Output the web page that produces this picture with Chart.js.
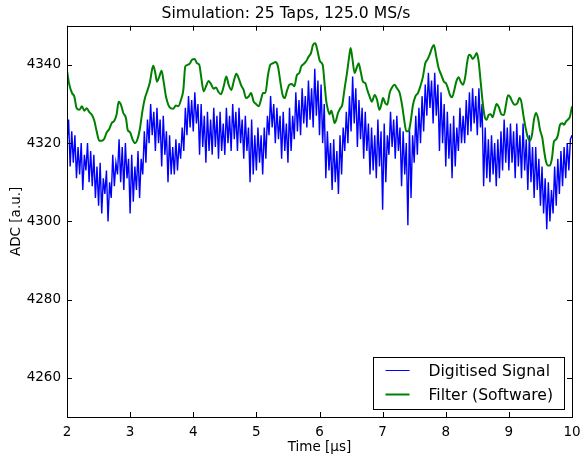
<!DOCTYPE html>
<html>
<head>
<meta charset="utf-8">
<script src="https://cdn.jsdelivr.net/npm/chart.js@4/dist/chart.umd.min.js"></script>
<style>
  html, body { margin: 0; padding: 0; background: #fff; }
  #wrap { width: 583px; height: 454px; }
</style>
</head>
<body>
<div id="wrap"><canvas id="chart" width="583" height="454"></canvas></div>
<script>
const FONT = "'DejaVu Sans', 'Liberation Sans', sans-serif";

// Digitised signal, one value every 0.025 us from 2.0 to 10.0 us
const signalStart = 2.0;
const signalStep = 0.025;
const signalValues = [
  4320, 4326, 4314, 4323, 4315, 4322, 4311, 4319, 4312, 4320, 4308, 4317, 4313, 4320, 4310, 4318, 4309, 4317, 4306, 4314,
  4304, 4315, 4302, 4311, 4307, 4313, 4300, 4310, 4306, 4317, 4309, 4315, 4312, 4321, 4310, 4319, 4308, 4320, 4311, 4316,
  4302, 4317, 4305, 4314, 4308, 4318, 4306, 4316, 4312, 4323, 4315, 4326, 4320, 4330, 4322, 4328, 4318, 4329, 4320, 4326,
  4314, 4327, 4317, 4323, 4310, 4322, 4312, 4319, 4312, 4321, 4313, 4320, 4316, 4324, 4318, 4329, 4322, 4332, 4324, 4331,
  4323, 4333, 4325, 4330, 4317, 4330, 4319, 4327, 4315, 4328, 4318, 4326, 4317, 4329, 4319, 4327, 4316, 4328, 4318, 4325,
  4317, 4329, 4320, 4327, 4318, 4330, 4321, 4328, 4318, 4329, 4320, 4326, 4316, 4327, 4318, 4324, 4310, 4326, 4312, 4322,
  4313, 4324, 4315, 4322, 4312, 4324, 4316, 4327, 4322, 4332, 4324, 4330, 4320, 4329, 4321, 4327, 4316, 4328, 4318, 4325,
  4315, 4329, 4318, 4327, 4321, 4333, 4323, 4331, 4322, 4334, 4325, 4332, 4324, 4336, 4326, 4334, 4324, 4339, 4327, 4336,
  4322, 4335, 4320, 4330, 4311, 4323, 4313, 4320, 4308, 4321, 4310, 4318, 4307, 4322, 4312, 4324, 4318, 4328, 4320, 4332,
  4323, 4337, 4325, 4334, 4319, 4331, 4321, 4329, 4316, 4328, 4318, 4325, 4312, 4324, 4313, 4322, 4311, 4326, 4314, 4323,
  4303, 4325, 4310, 4322, 4317, 4328, 4319, 4326, 4316, 4327, 4318, 4324, 4309, 4323, 4312, 4320, 4299, 4324, 4306, 4322,
  4315, 4327, 4317, 4329, 4320, 4332, 4323, 4335, 4327, 4338, 4329, 4336, 4325, 4338, 4327, 4335, 4318, 4333, 4320, 4330,
  4314, 4328, 4316, 4325, 4311, 4327, 4314, 4324, 4318, 4329, 4320, 4327, 4320, 4331, 4322, 4333, 4323, 4334, 4325, 4332,
  4322, 4334, 4324, 4330, 4309, 4324, 4311, 4321, 4310, 4322, 4312, 4320, 4309, 4321, 4311, 4323, 4313, 4326, 4315, 4324,
  4313, 4325, 4315, 4323, 4311, 4325, 4314, 4322, 4311, 4325, 4313, 4321, 4308, 4322, 4310, 4319, 4306, 4319, 4308, 4316,
  4304, 4314, 4302, 4311, 4298, 4310, 4300, 4308, 4302, 4314, 4304, 4316, 4307, 4318, 4309, 4319, 4311, 4320, 4313, 4321,
  4322
];

// Software filter output
const filterTimes = [
  2.000, 2.037, 2.079, 2.116, 2.153, 2.195, 2.237, 2.274, 2.311, 2.354,
  2.396, 2.433, 2.470, 2.512, 2.554, 2.591, 2.628, 2.670, 2.707, 2.750,
  2.787, 2.818, 2.855, 2.892, 2.934, 2.961, 2.998, 3.040, 3.077, 3.119,
  3.156, 3.198, 3.235, 3.278, 3.315, 3.346, 3.367, 3.399, 3.425, 3.462,
  3.499, 3.531, 3.568, 3.605, 3.647, 3.684, 3.726, 3.763, 3.806, 3.843,
  3.874, 3.911, 3.948, 3.980,
  4.022, 4.059, 4.096, 4.128, 4.165, 4.202, 4.244, 4.281, 4.323, 4.360,
  4.402, 4.439, 4.482, 4.524, 4.561, 4.603, 4.640, 4.682, 4.719, 4.761,
  4.798, 4.835, 4.878, 4.915, 4.957, 4.994, 5.036, 5.073, 5.105, 5.142,
  5.184, 5.221, 5.263, 5.300, 5.342, 5.379, 5.416, 5.448, 5.485, 5.522,
  5.564, 5.601, 5.643, 5.680, 5.712, 5.749, 5.791, 5.828, 5.865, 5.897,
  5.934, 5.965,
  6.008, 6.050, 6.082, 6.108, 6.134, 6.161, 6.187, 6.214, 6.240, 6.266,
  6.293, 6.330, 6.361, 6.398, 6.435, 6.467, 6.493, 6.520, 6.557, 6.588,
  6.620, 6.652, 6.689, 6.726, 6.757, 6.794, 6.831, 6.874, 6.911, 6.948,
  6.979, 7.006, 7.043, 7.074, 7.111, 7.148, 7.190, 7.227, 7.270, 7.307,
  7.338, 7.375, 7.412, 7.444, 7.481, 7.518, 7.560, 7.597, 7.639, 7.676,
  7.708, 7.745, 7.782, 7.813, 7.850, 7.887, 7.930, 7.972,
  8.004, 8.035, 8.067, 8.099, 8.130, 8.167, 8.204, 8.236, 8.273, 8.305,
  8.342, 8.368, 8.394, 8.426, 8.458, 8.489, 8.521, 8.553, 8.584, 8.616,
  8.648, 8.679, 8.711, 8.743, 8.775, 8.806, 8.843, 8.880, 8.922, 8.954,
  8.986, 9.017, 9.054, 9.091, 9.134, 9.165, 9.197, 9.229, 9.266, 9.303,
  9.334, 9.366, 9.398, 9.429, 9.461, 9.493, 9.530, 9.556, 9.588, 9.619,
  9.651, 9.683, 9.714, 9.746, 9.778, 9.810, 9.846, 9.873, 9.904, 9.936,
  9.968, 10.000
];
const filterValues = [
  4338.5, 4334.9, 4332.8, 4331.9, 4328.9, 4328.5, 4329.4, 4328.3, 4328.9, 4327.9,
  4327.2, 4325.7, 4323.0, 4320.6, 4320.6, 4321.1, 4322.7, 4323.6, 4325.1, 4325.7,
  4327.4, 4330.6, 4329.8, 4327.7, 4326.4, 4323.4, 4322.8, 4320.9, 4320.0, 4321.1,
  4323.8, 4328.5, 4331.5, 4333.6, 4335.7, 4338.7, 4339.8, 4337.9, 4335.7, 4337.0,
  4338.5, 4335.7, 4331.9, 4329.8, 4328.9, 4328.8, 4329.6, 4329.4, 4331.1, 4333.6,
  4339.6, 4340.0, 4340.4, 4341.3,
  4341.5, 4340.4, 4340.0, 4336.6, 4333.2, 4334.5, 4335.9, 4335.1, 4333.9, 4334.2,
  4333.0, 4332.5, 4334.5, 4337.0, 4334.9, 4333.6, 4335.7, 4337.7, 4336.6, 4334.7,
  4333.6, 4331.5, 4331.9, 4332.8, 4330.6, 4330.0, 4329.4, 4331.1, 4332.8, 4332.8,
  4337.4, 4340.0, 4340.4, 4340.7, 4339.6, 4335.7, 4332.3, 4331.5, 4333.4, 4334.9,
  4335.1, 4334.5, 4337.4, 4337.9, 4339.6, 4340.2, 4341.0, 4342.1, 4343.0, 4345.1,
  4345.5, 4343.8,
  4340.9, 4340.0, 4334.9, 4330.6, 4328.5, 4327.4, 4328.3, 4326.8, 4325.1, 4326.0,
  4327.7, 4328.9, 4329.8, 4334.0, 4337.9, 4341.7, 4344.3, 4341.7, 4337.9, 4339.2,
  4340.4, 4338.3, 4335.7, 4335.3, 4333.6, 4331.9, 4330.6, 4332.3, 4331.1, 4328.5,
  4329.8, 4331.5, 4330.2, 4329.8, 4332.8, 4334.2, 4334.9, 4334.0, 4332.8, 4329.8,
  4326.4, 4323.0, 4323.0, 4325.5, 4329.8, 4331.9, 4332.8, 4334.5, 4337.0, 4340.4,
  4341.3, 4342.6, 4344.3, 4345.1, 4342.1, 4339.2, 4337.4, 4335.7,
  4335.3, 4334.0, 4332.3, 4331.7, 4333.2, 4335.7, 4336.8, 4335.7, 4334.9, 4336.6,
  4340.9, 4342.6, 4342.4, 4341.5, 4342.1, 4343.0, 4340.9, 4335.7, 4330.6, 4326.8,
  4326.0, 4327.2, 4327.4, 4326.6, 4328.5, 4330.0, 4329.1, 4327.4, 4327.2, 4329.8,
  4332.2, 4331.9, 4330.6, 4329.8, 4330.2, 4331.5, 4330.6, 4327.2, 4323.8, 4321.3,
  4320.6, 4322.1, 4326.0, 4327.7, 4326.4, 4323.4, 4321.3, 4318.3, 4315.3, 4314.3,
  4314.3, 4316.2, 4320.4, 4320.9, 4322.1, 4324.7, 4325.1, 4324.7, 4325.5, 4326.0,
  4326.8, 4329.4
];

const xTicks = [2, 3, 4, 5, 6, 7, 8, 9, 10];
const yTicks = [4260, 4280, 4300, 4320, 4340];

// matplotlib style frame with inward ticks on all four sides
const framePlugin = {
  id: 'frame',
  afterDatasetsDraw(chart) {
    const { ctx, chartArea: ca, scales } = chart;
    const len = 5;
    ctx.save();
    ctx.strokeStyle = '#000';
    ctx.lineWidth = 1;
    ctx.beginPath();
    xTicks.forEach(v => {
      const px = Math.round(scales.x.getPixelForValue(v)) + 0.5;
      ctx.moveTo(px, ca.bottom); ctx.lineTo(px, ca.bottom - len);
      ctx.moveTo(px, ca.top); ctx.lineTo(px, ca.top + len);
    });
    yTicks.forEach(v => {
      const py = Math.round(scales.y.getPixelForValue(v)) + 0.5;
      ctx.moveTo(ca.left, py); ctx.lineTo(ca.left + len, py);
      ctx.moveTo(ca.right, py); ctx.lineTo(ca.right - len, py);
    });
    ctx.stroke();
    ctx.strokeRect(Math.round(ca.left) + 0.5, Math.round(ca.top) + 0.5,
      Math.round(ca.right - ca.left), Math.round(ca.bottom - ca.top));
    ctx.restore();
  }
};

// legend box in the lower right corner of the axes
const legendPlugin = {
  id: 'boxLegend',
  afterDraw(chart) {
    const { ctx, chartArea: ca } = chart;
    const w = 191, h = 52;
    const left = Math.round(ca.right - 8 - w) + 0.5;
    const top = Math.round(ca.bottom - 8 - h) + 0.5;
    ctx.save();
    ctx.fillStyle = '#fff';
    ctx.fillRect(left, top, w, h);
    ctx.strokeStyle = '#000';
    ctx.lineWidth = 1;
    ctx.strokeRect(left, top, w, h);
    ctx.font = '15.6px ' + FONT;
    ctx.textBaseline = 'middle';
    ctx.textAlign = 'left';
    chart.data.datasets.forEach((ds, i) => {
      const y = top + 13 + i * 24;
      ctx.strokeStyle = ds.borderColor;
      ctx.lineWidth = i === 0 ? 1 : 2;
      ctx.beginPath();
      ctx.moveTo(left + 12, y);
      ctx.lineTo(left + 36, y);
      ctx.stroke();
      ctx.fillStyle = '#000';
      ctx.fillText(ds.label, left + 55, y + 1);
    });
    ctx.restore();
  }
};

const signalPoints = signalValues.map((v, i) => ({ x: signalStart + i * signalStep, y: v }));
const filterPoints = filterTimes.map((t, i) => ({ x: t, y: filterValues[i] }));

new Chart(document.getElementById('chart').getContext('2d'), {
  type: 'line',
  data: {
    datasets: [
      {
        label: 'Digitised Signal',
        data: signalPoints,
        borderColor: '#0000ff',
        borderWidth: 1.4,
        pointRadius: 0,
        tension: 0,
        order: 2
      },
      {
        label: 'Filter (Software)',
        data: filterPoints,
        borderColor: '#008000',
        borderWidth: 2,
        pointRadius: 0,
        cubicInterpolationMode: 'monotone',
        order: 1
      }
    ]
  },
  options: {
    responsive: false,
    animation: false,
    devicePixelRatio: 1,
    layout: { padding: { left: 0, right: 11, top: 0, bottom: 0 } },
    plugins: {
      legend: { display: false },
      tooltip: { enabled: false },
      title: {
        display: true,
        text: 'Simulation: 25 Taps, 125.0 MS/s',
        color: '#000',
        font: { family: FONT, size: 15.6, weight: 'normal' },
        padding: { top: 5, bottom: 2 }
      }
    },
    scales: {
      x: {
        type: 'linear',
        min: 2,
        max: 10,
        afterBuildTicks(scale) { scale.ticks = xTicks.map(v => ({ value: v })); },
        afterFit(scale) {
          scale.height = 37;
          scale.paddingLeft = 0;
          scale.paddingRight = 0;
        },
        grid: { display: false, drawTicks: false },
        border: { display: false },
        ticks: {
          color: '#000',
          font: { family: FONT, size: 13.5 },
          padding: 7,
          maxRotation: 0,
          autoSkip: false,
          callback: v => String(v)
        },
        title: {
          display: true,
          text: 'Time [μs]',
          color: '#000',
          font: { family: FONT, size: 13.5 },
          padding: { top: 0, bottom: -2 }
        }
      },
      y: {
        type: 'linear',
        min: 4250,
        max: 4350,
        afterBuildTicks(scale) { scale.ticks = yTicks.map(v => ({ value: v })); },
        afterFit(scale) {
          scale.width = 67;
          scale.paddingTop = 0;
          scale.paddingBottom = 0;
        },
        grid: { display: false, drawTicks: false },
        border: { display: false },
        ticks: {
          color: '#000',
          font: { family: FONT, size: 13.5 },
          padding: 6,
          callback: v => String(v)
        },
        title: {
          display: true,
          text: 'ADC [a.u.]',
          color: '#000',
          font: { family: FONT, size: 13.5 },
          padding: { top: 8, bottom: 0 }
        }
      }
    }
  },
  plugins: [framePlugin, legendPlugin]
});
</script>
</body>
</html>
